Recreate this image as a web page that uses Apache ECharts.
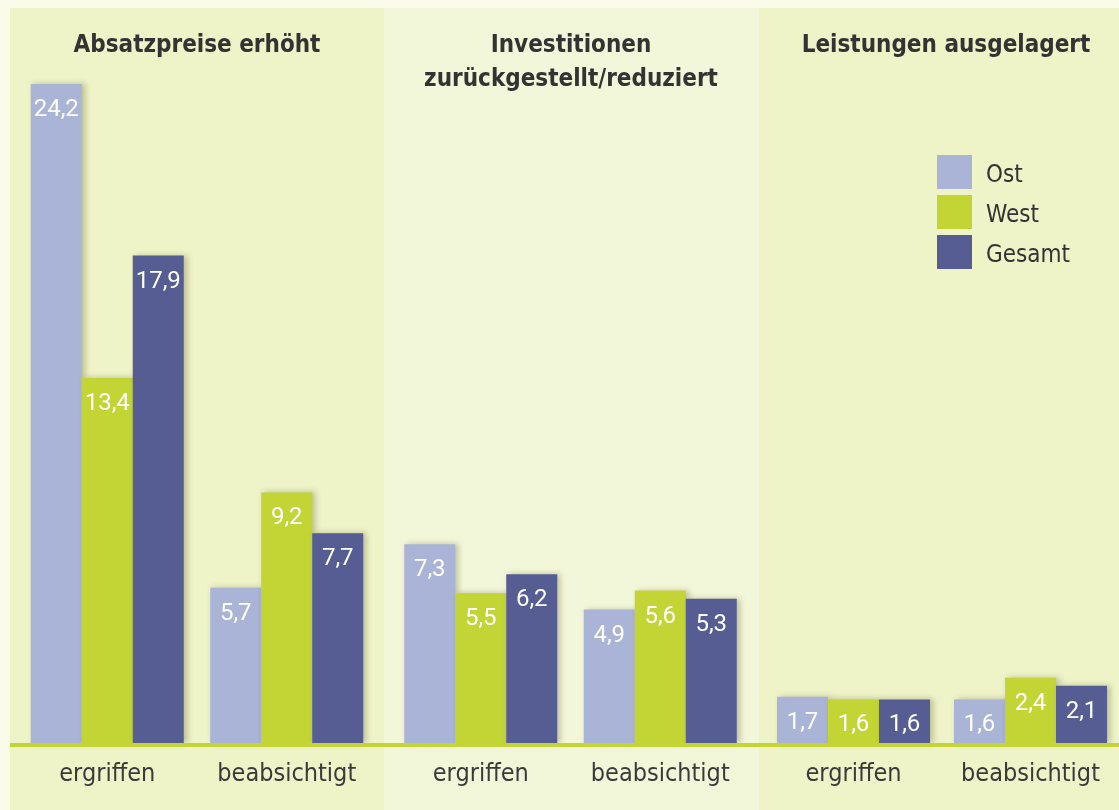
<!DOCTYPE html>
<html>
<head>
<meta charset="utf-8">
<script src="https://cdn.jsdelivr.net/npm/echarts@6/dist/echarts.min.js"></script>
<style>
  html, body { margin: 0; padding: 0; background: #fafbe9; }
  #main { width: 1119px; height: 810px; }
</style>
</head>
<body>
<div id="main"></div>
<script>
// data
var panels = ['Absatzpreise erhöht', 'Investitionen\nzurückgestellt/reduziert', 'Leistungen ausgelagert']
var categories = ['ergriffen', 'beabsichtigt']
var ost = [24.2, 5.7, 7.3, 4.9, 1.7, 1.6]
var west = [13.4, 9.2, 5.5, 5.6, 1.6, 2.4]
var gesamt = [17.9, 7.7, 6.2, 5.3, 1.6, 2.1]

var seriesDefs = [
  { name: 'Ost', values: ost, color: '#aab4d6' },
  { name: 'West', values: west, color: '#c2d534' },
  { name: 'Gesamt', values: gesamt, color: '#555d92' }
]

var font = "'DejaVu Sans Condensed', 'DejaVu Sans', sans-serif"
var gridLefts = [17.5, 391, 765]
var gridWidth = 359
var titleCenters = [197, 571, 946]
var panelRects = [[10, 374, '#eef3c8'], [384, 375, '#f3f7d9'], [759, 360, '#eef3c8']]

var chart = echarts.init(document.getElementById('main'))

var grids = [], xAxes = [], yAxes = [], series = [], titles = []
panels.forEach(function (p, i) {
  grids.push({ left: gridLefts[i], width: gridWidth, top: 35, bottom: 67 })
  xAxes.push({
    type: 'category', gridIndex: i, data: categories,
    axisLine: { show: false }, axisTick: { show: false },
    axisLabel: { color: '#3a3a3a', fontSize: 25, fontFamily: font, margin: 19, interval: 0 }
  })
  yAxes.push({ type: 'value', gridIndex: i, min: 0, max: 26, show: false })
  titles.push({
    text: p, left: titleCenters[i], top: 29, textAlign: 'center', padding: 0,
    textStyle: { color: '#333333', fontSize: 24, fontWeight: 'bold', fontFamily: font, lineHeight: 34 }
  })
  seriesDefs.forEach(function (s) {
    series.push({
      name: s.name, type: 'bar', xAxisIndex: i, yAxisIndex: i,
      data: s.values.slice(i * 2, i * 2 + 2),
      barWidth: 51, barGap: '0%',
      itemStyle: { color: s.color, shadowColor: 'rgba(90,90,40,0.35)', shadowBlur: 6, shadowOffsetX: 3 },
      label: {
        show: true, position: 'insideTop', distance: 14,
        color: '#ffffff', fontSize: 24, fontFamily: 'Roboto',
        formatter: function (d) { return d.value.toFixed(1).replace('.', ',') }
      }
    })
  })
})

var graphics = panelRects.map(function (r) {
  return { type: 'rect', silent: true, z: -10, shape: { x: r[0], y: 8, width: r[1], height: 802 }, style: { fill: r[2] } }
})
graphics.push({ type: 'rect', silent: true, z: 100, shape: { x: 10, y: 743, width: 1109, height: 4 }, style: { fill: '#c2d534' } })

chart.setOption({
  backgroundColor: '#fafbe9',
  animation: false,
  title: titles,
  graphic: graphics,
  legend: {
    orient: 'vertical', left: 937, top: 155, padding: 0,
    itemWidth: 35, itemHeight: 34, itemGap: 6,
    icon: 'rect',
    data: ['Ost', 'West', 'Gesamt'],
    formatter: '{t|{name}}',
    textStyle: {
      rich: { t: { color: '#333333', fontSize: 24, fontFamily: font, padding: [8, 0, 0, 9] } }
    }
  },
  grid: grids,
  xAxis: xAxes,
  yAxis: yAxes,
  series: series
})
</script>
</body>
</html>
